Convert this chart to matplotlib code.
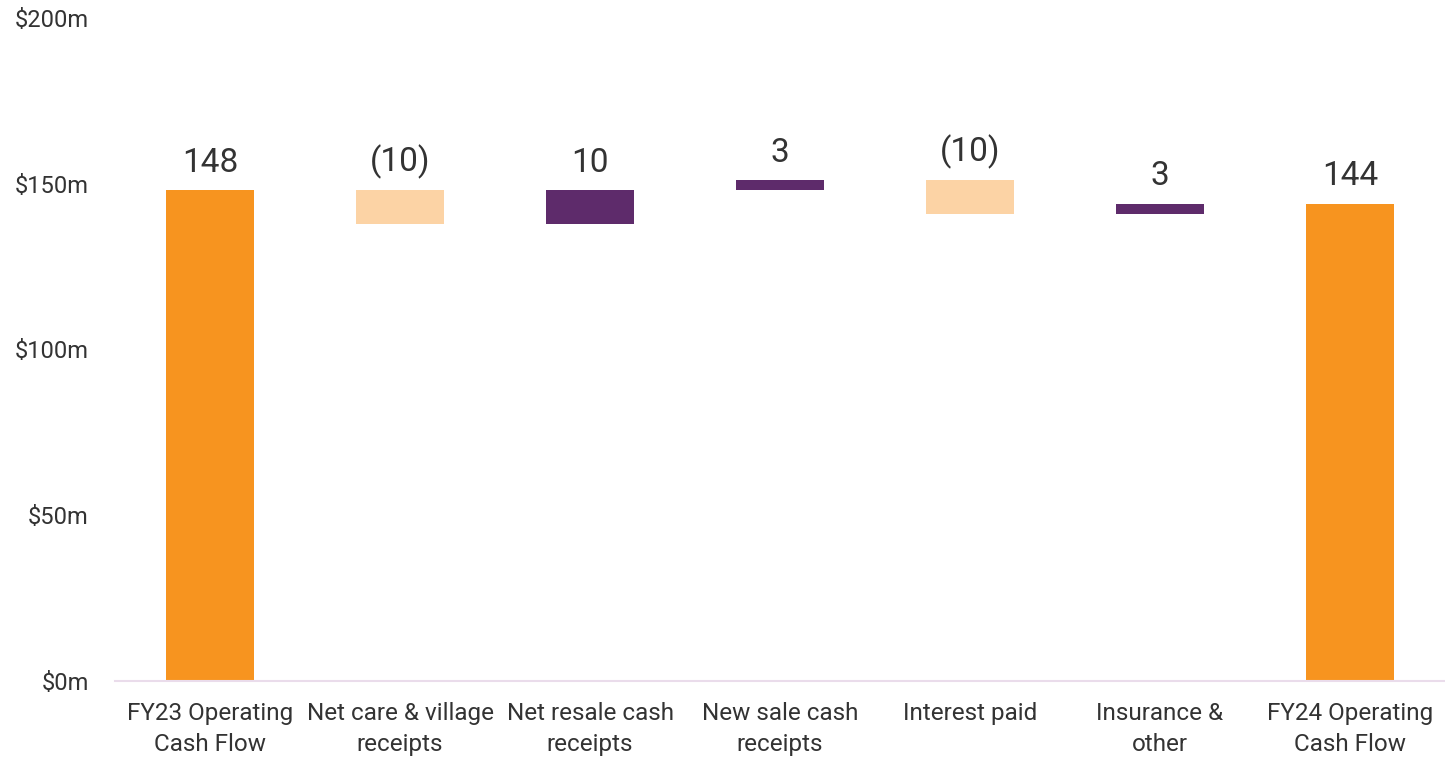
import matplotlib.pyplot as plt
import matplotlib.ticker as ticker
import numpy as np

plt.rcParams.update({
    "font.family": ["Roboto", "DejaVu Sans"],
    "text.color": "#333333",
    "axes.labelcolor": "#333333",
    "xtick.color": "#333333",
    "ytick.color": "#333333",
})

# Operating cash flow bridge, FY23 -> FY24 ($m)
categories = [
    "FY23 Operating\nCash Flow",
    "Net care & village\nreceipts",
    "Net resale cash\nreceipts",
    "New sale cash\nreceipts",
    "Interest paid",
    "Insurance &\nother",
    "FY24 Operating\nCash Flow",
]
values = [148, -10, 10, 3, -10, 3, 144]
is_total = [True, False, False, False, False, False, True]
y_ticks = [0, 50, 100, 150, 200]

ORANGE = "#F7941F"
PEACH = "#FCD3A5"
PURPLE = "#5E2B6B"

fig = plt.figure(figsize=(14.45, 7.59), dpi=100)
ax = fig.add_axes([0.0796, 0.1028, 0.9204, 0.8735])

x = np.arange(len(categories))
running = 0
for i, (v, total) in enumerate(zip(values, is_total)):
    if total:
        bottom, height, color = 0, v, ORANGE
        running = v
        top = v
        label = f"{v}"
    else:
        bottom = running if v > 0 else running + v
        height = abs(v)
        color = PURPLE if v > 0 else PEACH
        top = max(running, running + v)
        running += v
        label = f"{v}" if v > 0 else f"({abs(v)})"
    ax.bar(x[i], height, bottom=bottom, width=0.46, color=color, zorder=2)
    ax.text(x[i], top + 3.5, label, ha="center", va="bottom", fontsize=24)

ax.set_xlim(-0.5, len(categories) - 0.5)
ax.set_ylim(0, 200)
ax.set_yticks(y_ticks)
ax.yaxis.set_major_formatter(ticker.FuncFormatter(lambda v, _: f"${v:.0f}m"))
ax.set_xticks(x)
ax.set_xticklabels(categories, fontsize=17.5, linespacing=1.45)
ax.tick_params(axis="y", length=0, pad=19, labelsize=17)
ax.tick_params(axis="x", length=0, pad=15)

for side in ["top", "right", "left"]:
    ax.spines[side].set_visible(False)
ax.spines["bottom"].set_color("#EADCEB")
ax.spines["bottom"].set_linewidth(1.5)

fig.savefig("out.png", dpi=100)
